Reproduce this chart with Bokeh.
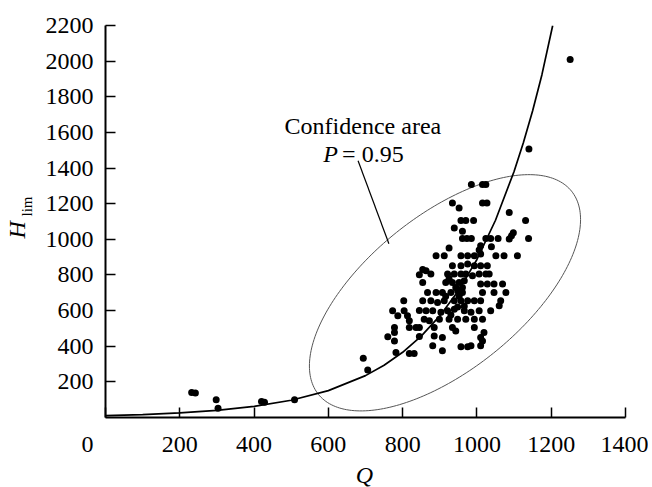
import numpy as np
from bokeh.plotting import figure
from bokeh.models import Range1d, FixedTicker, Label
from bokeh.embed import file_html
from bokeh.resources import INLINE

# ---------------- data ----------------
# isolated points
q_low = [232, 242, 298, 303, 420, 428, 509, 694, 706, 1140, 1251]
h_low = [140, 138, 99, 52, 90, 86, 99, 333, 266, 1507, 2009]

# main cluster, upper part / left part / right part
q_clu = [985, 1015, 1024, 934, 1015, 1027, 952, 1087, 957, 970, 991, 1131,
         939, 961, 1098, 1093, 961, 973, 985, 1024, 1037, 1057, 1087, 1139,
         925, 1010, 1006, 1039,
         845, 854, 803, 773, 804, 845, 787, 813, 818, 778, 818, 836, 845,
         760, 778, 845, 778, 782, 818, 831]
h_clu = [1307, 1307, 1307, 1204, 1204, 1204, 1176, 1151, 1105, 1105, 1105, 1105,
         1063, 1045, 1037, 1020, 1005, 1005, 1005, 1005, 1005, 1005, 1002, 1005,
         951, 964, 940, 958,
         801, 830, 655, 599, 599, 600, 571, 571, 543, 505, 505, 505, 505,
         453, 477, 455, 430, 365, 359, 359]

# dense core
q_core = [890, 912, 957, 975, 993, 1010, 1051, 1073, 1109,
          934, 957, 975, 993, 1010, 1028,
          863, 876, 921, 939, 957, 970, 988, 1006, 1024, 1033,
          854, 916, 934, 952, 966, 1010, 1028, 1046, 1069,
          867, 890, 907, 930, 948, 961, 1015, 1046, 1078,
          854, 876, 894, 912, 939, 957, 975, 993, 1010, 1064,
          863, 881, 903, 921, 939, 966, 984, 1006, 1037, 1060,
          858, 872, 899, 925, 948, 970, 993, 1015,
          885, 934, 943, 1019, 993,
          885, 907, 1010, 1015,
          881, 957, 975, 984, 1010, 907,
          925, 943, 952, 966, 930, 948, 961, 916]
h_core = [908, 908, 908, 908, 908, 917, 908, 908, 908,
          852, 852, 861, 852, 852, 852,
          824, 805, 805, 805, 805, 805, 796, 805, 805, 805,
          758, 758, 758, 758, 767, 749, 749, 749, 749,
          702, 702, 702, 702, 711, 702, 702, 702, 702,
          655, 655, 646, 655, 655, 655, 655, 655, 655, 655,
          599, 599, 590, 599, 608, 599, 590, 599, 599, 627,
          552, 543, 552, 552, 552, 552, 552, 552,
          505, 505, 486, 477, 505,
          458, 449, 449, 430,
          402, 397, 397, 402, 402, 374,
          780, 730, 680, 625, 575, 620, 730, 680]

# fitted curve
fit_q = [0, 100, 200, 300, 400, 500, 600, 700, 750, 800, 850, 900, 950,
         1000, 1050, 1100, 1125, 1150, 1175, 1204]
fit_h = [11, 16, 26, 40, 62, 97, 151, 235, 293, 366, 457, 570, 711,
         887, 1107, 1381, 1542, 1722, 1924, 2200]

# confidence ellipse (P = 0.95) parameters
ell_q0, ell_h0 = 914, 700
ell_sq, ell_sh, ell_r = 365, 663, 0.62

x_ticks = [0, 200, 400, 600, 800, 1000, 1200, 1400]
y_ticks = [200, 400, 600, 800, 1000, 1200, 1400, 1600, 1800, 2000, 2200]

# annotation leader line
lead_q = (680, 763)
lead_h = (1441, 975)

FONT = "Liberation Serif"
FS = "24px"
NBSP = "\u00a0"

p = figure(width=648, height=487,
           x_range=Range1d(0, 1400), y_range=Range1d(0, 2200),
           output_backend="svg", toolbar_location=None,
           min_border_left=104, min_border_right=23,
           min_border_top=25, min_border_bottom=70)
p.grid.visible = False
p.outline_line_color = None
p.background_fill_color = "white"

p.xaxis.ticker = FixedTicker(ticks=x_ticks)
p.yaxis.ticker = FixedTicker(ticks=y_ticks)
# the origin label sits left of the corner, as in the original figure
p.xaxis.major_label_overrides = {0: "0" + NBSP * 6}
for ax in (p.xaxis[0], p.yaxis[0]):
    ax.axis_line_width = 2
    ax.axis_line_color = "black"
    ax.major_tick_in = 10
    ax.major_tick_out = 0
    ax.major_tick_line_width = 1.5
    ax.major_tick_line_color = "black"
    ax.minor_tick_line_color = None
    ax.major_label_text_font = FONT
    ax.major_label_text_font_size = FS
    ax.major_label_text_color = "black"
p.xaxis.major_label_standoff = 13
p.yaxis.major_label_standoff = 12

# ellipse outline
t = np.linspace(0, 2 * np.pi, 241)
eq = ell_q0 + ell_sq * np.cos(t)
eh = ell_h0 + ell_sh * (ell_r * np.cos(t) + np.sqrt(1 - ell_r ** 2) * np.sin(t))
p.line(eq, eh, line_color="#555555", line_width=1)

# curve
p.line(fit_q, fit_h, line_color="black", line_width=1.7)

# points
p.scatter(q_low + q_clu + q_core, h_low + h_clu + h_core, size=7,
          fill_color="black", line_color=None)

# leader line
p.segment(x0=[lead_q[0]], y0=[lead_h[0]], x1=[lead_q[1]], y1=[lead_h[1]],
          line_color="black", line_width=1.2)

def lab(place=None, **kw):
    kw.setdefault("text_font", FONT)
    kw.setdefault("text_font_size", FS)
    kw.setdefault("text_color", "black")
    if place is None:
        p.add_layout(Label(**kw))
    else:
        p.add_layout(Label(**kw), place)

lab(x=693, y=1635, text="Confidence area", text_align="center", text_baseline="alphabetic")
lab(x=586, y=1477, text="P", text_font_style="italic", text_align="left", text_baseline="alphabetic")
lab(x=637, y=1477, text="= 0.95", text_align="left", text_baseline="alphabetic")

# axis titles, placed on the canvas from side panels (so they are not clipped)
lab("right", x=364, y=474, x_units="canvas", y_units="canvas", text="Q",
    text_font_style="italic", text_align="center", text_baseline="alphabetic")
lab("left", x=16, y=238, x_units="canvas", y_units="canvas", angle=np.pi / 2, text="H",
    text_font_style="italic", text_align="left", text_baseline="alphabetic")
lab("left", x=26, y=216, x_units="canvas", y_units="canvas", angle=np.pi / 2, text="lim",
    text_font_size="15px", text_align="left", text_baseline="alphabetic")

open("out.html", "w").write(file_html(p, INLINE))
